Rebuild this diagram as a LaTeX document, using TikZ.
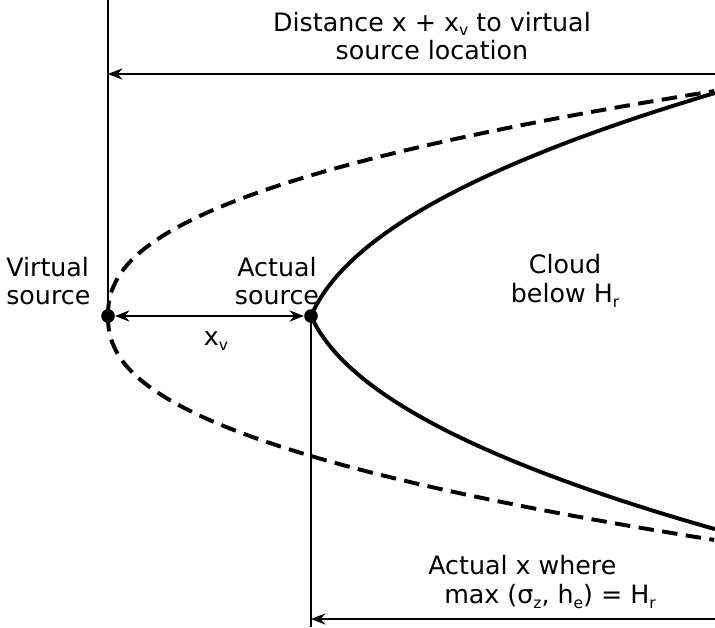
\documentclass[tikz,border=0pt]{standalone}
\usepackage{fontspec}
\setmainfont{DejaVu Sans}
\usetikzlibrary{arrows.meta,positioning}
\newcommand{\lowsub}[1]{\raisebox{-0.35ex}{\fontsize{11}{11}\selectfont #1}}

\begin{document}
\begin{tikzpicture}[x=0.025cm, y=-0.025cm, >={Stealth[length=3.6mm,width=2.8mm]},
  lbl/.style={font=\fontsize{18}{20.5}\selectfont, align=center, inner sep=0pt},
  guide/.style={line width=1.3pt},
  dim/.style={->, line width=1.3pt},
  plume/.style={line width=2.8pt},
  vplume/.style={line width=2.8pt, dash pattern=on 11pt off 6pt},
  src/.style={circle, fill, inner sep=0pt, minimum size=3.4mm}]
\useasboundingbox (0,0) rectangle (715,627);
% sources
\node[src] (vs) at (108,316) {};
\node[src] (as) at (311,316) {};
\coordinate (vtop) at (108,0);
\coordinate (abot) at (311,627);
\coordinate (topR) at (715,74);
\coordinate (topL) at (108,74);
\coordinate (botR) at (715,619);
\coordinate (botL) at (311,619);
% guide lines and distances
\draw[guide] (vs.center) -- (vtop);
\draw[guide] (as.center) -- (abot);
\draw[dim] (topR) -- (topL);
\draw[dim] (botR) -- (botL);
\draw[<->, line width=1.3pt] (vs) -- (as);
% plume edges, virtual (dashed) and actual (solid)
\draw[vplume] (vs.center) -- plot[domain=0.02:1, samples=60, smooth] ({108+607*(\x)^2.33}, {316-225*\x});
\draw[vplume] (vs.center) -- plot[domain=0.02:1, samples=60, smooth] ({108+607*(\x)^2.33}, {316+224*\x});
\draw[plume] plot[domain=0:404, samples=80, smooth] ({311+\x}, {316-18.23*((\x+10)^0.45-2.818)});
\draw[plume] plot[domain=0:404, samples=80, smooth] ({311+\x}, {316+17.42*((\x+10)^0.45-2.818)});
% labels
\node[lbl] (dist) at (432,36) {Distance x + x\lowsub{v} to virtual\\source location};
\node[lbl, align=left, anchor=west] (vlab) at (6,281) {Virtual\\source};
\node[lbl] (alab) at (277,281) {Actual\\source};
\node[lbl] (clab) at (565,281) {Cloud\\below H\lowsub{r}};
\node[lbl] (xv) at (216,341) {x\lowsub{v}};
\node[lbl, align=left, anchor=west] (xlab) at (428,582) {Actual x where\\\hspace*{0.4cm}max (σ\lowsub{z}, h\lowsub{e}) = H\lowsub{r}};
\end{tikzpicture}
\end{document}
